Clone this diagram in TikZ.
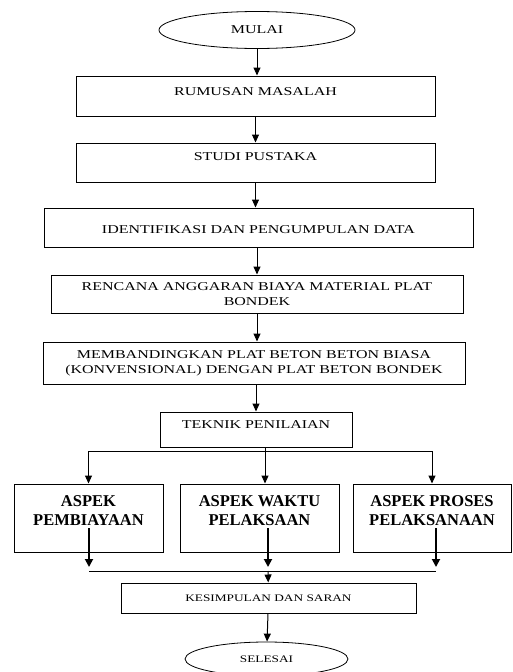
\documentclass[tikz,border=0pt]{standalone}
\usepackage{fontspec}
\setmainfont{Liberation Serif}
\newfontfamily\widefont[FakeStretch=1.33]{Liberation Serif}
\usetikzlibrary{shapes.geometric,arrows.meta}

\begin{document}
\begin{tikzpicture}[x=1pt,y=-1pt,
          every node/.style={font=\widefont\fontsize{12}{15}\selectfont},
          box/.style={rectangle,draw,line width=1pt,inner sep=1pt,align=center},
          term/.style={ellipse,draw,line width=0.8pt,inner sep=0pt},
          aspek/.style={box,minimum width=#1,minimum height=68pt,text depth=15pt,font=\bfseries\fontsize{16.5}{19}\selectfont},
          arr/.style={line width=1pt,-{Triangle[length=8pt,width=7pt]}},
          arrb/.style={line width=1.8pt,-{Triangle[length=8pt,width=8pt]}},
          ln/.style={line width=1pt},
        ]
        \useasboundingbox (0,0) rectangle (512,672);
        \node[term,minimum width=196pt,minimum height=37pt] (mulai) at (257,30) {MULAI};
        \node[box,minimum width=359pt,minimum height=40pt,text depth=8pt] (rumus) at (255.5,96) {RUMUSAN MASALAH};
        \node[box,minimum width=359pt,minimum height=39pt,text depth=11pt] (studi) at (255.5,162.5) {STUDI PUSTAKA};
        \node[box,minimum width=429pt,minimum height=39pt,text height=13pt] (ident) at (258.5,227.5) {IDENTIFIKASI DAN PENGUMPULAN DATA};
        \node[box,minimum width=412pt,minimum height=38pt] (rab) at (257,294) {RENCANA ANGGARAN BIAYA MATERIAL PLAT\\BONDEK};
        \node[box,minimum width=422pt,minimum height=42pt] (banding) at (254,363) {MEMBANDINGKAN PLAT BETON BETON BIASA\\(KONVENSIONAL) DENGAN PLAT BETON BONDEK};
        \node[box,minimum width=192pt,minimum height=35pt,text depth=9pt] (teknik) at (256,429.5) {TEKNIK PENILAIAN};
        \node[aspek=149pt] (biaya) at (88.5,518) {ASPEK\\PEMBIAYAAN};
        \node[aspek=159pt] (waktu) at (259.5,518) {ASPEK WAKTU\\PELAKSAAN};
        \node[aspek=158pt] (proses) at (432,518) {ASPEK PROSES\\PELAKSANAAN};
        \node[box,minimum width=295pt,minimum height=30pt,font=\widefont\fontsize{10}{12}\selectfont] (kesim) at (268.5,598) {KESIMPULAN DAN SARAN};
        \node[term,minimum width=163pt,minimum height=34pt,font=\widefont\fontsize{10}{12}\selectfont] (selesai) at (266.5,659) {SELESAI};
        \coordinate (split) at (265,451);
        \coordinate (join) at (268,571);
        \draw[arr] (mulai) -- (mulai |- rumus.north);
        \draw[arr] (rumus) -- (studi);
        \draw[arr] (studi) -- (studi |- ident.north);
        \draw[arr] (ident.south -| rab) -- (rab);
        \draw[arr] (rab) -- (rab |- banding.north);
        \draw[arr] (teknik.north |- banding.south) -- (teknik);
        \draw[ln] (split |- teknik.south) -- (split);
        \draw[ln] (biaya |- split) -- (proses |- split);
        \draw[arr] (biaya |- split) -- (biaya);
        \draw[arr] (split) -- (split |- waktu.north);
        \draw[arr] (proses |- split) -- (proses);
        \draw[arrb] (89,528) -- (89,567);
        \draw[arrb] (268,528) -- (268,567);
        \draw[arrb] (436,528) -- (436,567);
        \draw[ln] (89,571) -- (436,571);
        \draw[arr] (join) -- (kesim);
        \draw[arr] (kesim) -- (selesai);
      \end{tikzpicture}
\end{document}
